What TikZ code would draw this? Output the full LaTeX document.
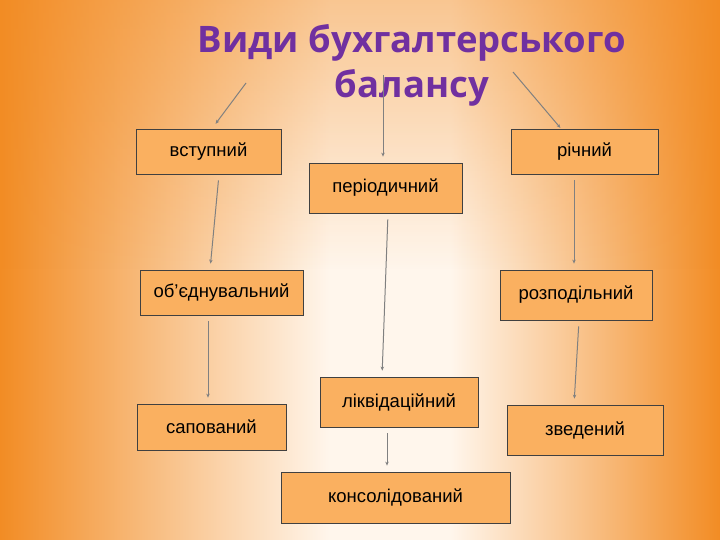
\documentclass[tikz,border=0pt]{standalone}
\usepackage{fontspec}
\setmainfont{Liberation Sans}
\newfontfamily\titlefont{Open Sans}
\usetikzlibrary{arrows.meta, fadings}
\definecolor{bgorange}{RGB}{242,140,36}
\definecolor{bglight}{RGB}{255,246,236}
\definecolor{boxorange}{RGB}{250,176,96}
\definecolor{titlepurple}{RGB}{112,48,160}

\begin{document}
\begin{tikzpicture}[
            x=1pt, y=-1pt,
            vid/.style={rectangle, draw=black!75, line width=0.8pt, fill=boxorange,
            minimum height=45pt, font=\fontsize{18.5}{20}\selectfont,
            align=center, inner sep=2pt},
            conn/.style={draw=black!50, line width=1pt,
            -{Stealth[length=4pt, width=3.5pt]},
            shorten <=6pt, shorten >=6pt}
        ]

% ----- Hintergrund -----
            \shade[left color=bgorange, right color=bglight] (0,0) rectangle (330,540);
            \fill[bglight] (330,0) rectangle (450,540);
            \shade[left color=bglight, right color=bgorange] (450,0) rectangle (720,540);
            \fill[bgorange, fill opacity=0.45, path fading=south] (0,0) rectangle (720,270);
            \useasboundingbox (0,0) rectangle (720,540);

% ----- Titel -----
            \node[font=\titlefont\bfseries\fontsize{36.5}{45}\selectfont,
                  text=titlepurple, align=center] (title) at (412,65)
                  {Види бухгалтерського\\балансу};
            \coordinate (c1) at (246,83);
            \coordinate (c2) at (383,75);
            \coordinate (c3) at (513,72);

% ----- Knoten -----
            \node[vid, minimum width=145pt] (vstup) at (208.5,151.5) {вступний};
            \node[vid, minimum width=147pt] (richn) at (584.5,151.5) {річний};
            \node[vid, minimum width=153pt, minimum height=50pt] (period) at (385.5,188) {періодичний};
            \node[vid, minimum width=163pt] (obyed) at (221.5,292.5) {об’єднувальний};
            \node[vid, minimum width=152pt, minimum height=50pt] (rozpod) at (576,295) {розподільний};
            \node[vid, minimum width=158pt, minimum height=50pt] (likvid) at (399,402) {ліквідаційний};
            \node[vid, minimum width=149pt, minimum height=46pt] (sapov) at (211.5,427) {сапований};
            \node[vid, minimum width=156pt, minimum height=50pt] (zveden) at (585,430) {зведений};
            \node[vid, minimum width=229pt, minimum height=51pt] (konsol) at (395.5,497.5) {консолідований};

% ----- Kanten -----
            \draw[conn, shorten <=0pt] (c1) -- ([xshift=3.5pt]vstup.north);
            \draw[conn, shorten <=0pt] (c2) -- ([xshift=-2.5pt]period.north);
            \draw[conn, shorten <=0pt, shorten >=1pt] (c3) -- ([xshift=-23.5pt]richn.north);
            \draw[conn] ([xshift=10.5pt]vstup.south) -- ([xshift=-11.5pt]obyed.north);
            \draw[conn] ([xshift=2.5pt]period.south) -- ([xshift=-17pt]likvid.north);
            \draw[conn] ([xshift=-10.5pt]richn.south) -- ([xshift=-2pt]rozpod.north);
            \draw[conn] ([xshift=-13.5pt]obyed.south) -- ([xshift=-3.5pt]sapov.north);
            \draw[conn] ([xshift=3pt]rozpod.south) -- ([xshift=-11pt]zveden.north);
            \draw[conn] ([xshift=-12pt]likvid.south) -- ([xshift=-8.5pt]konsol.north);

        \end{tikzpicture}
\end{document}
